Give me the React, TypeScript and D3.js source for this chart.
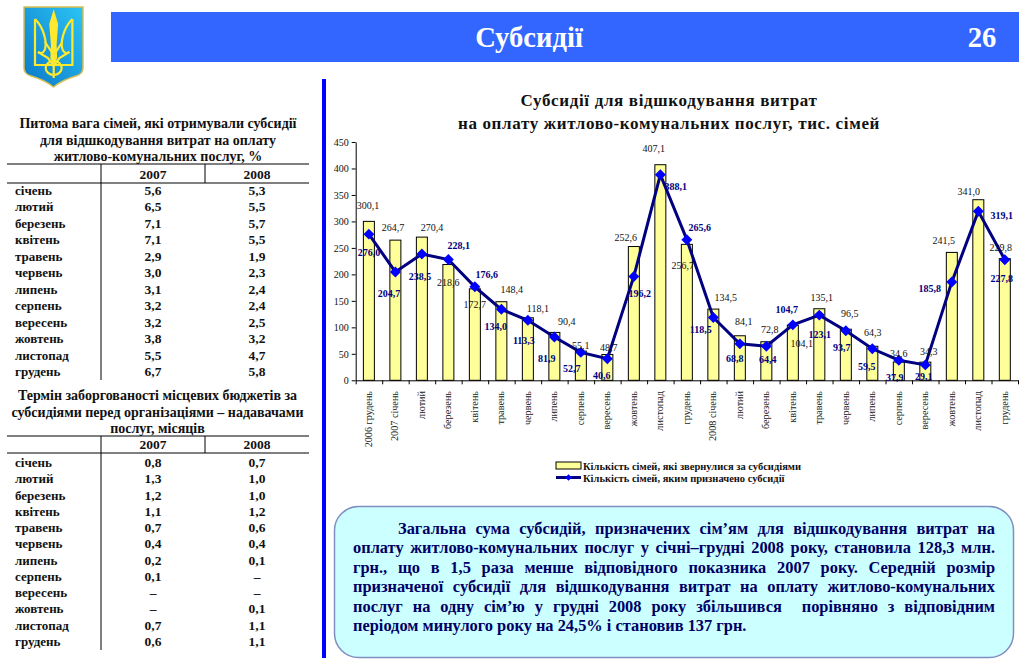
import { useRef, useEffect } from "react";
import * as d3 from "d3";

const serif = "'Liberation Serif', serif";

// chart data
const categories = [
  "2006 грудень", "2007 січень", "лютий", "березень", "квітень", "травень", "червень", "липень", "серпень", "вересень", "жовтень", "листопад", "грудень",
  "2008 січень", "лютий", "березень", "квітень", "травень", "червень", "липень", "серпень", "вересень", "жовтень", "листопад", "грудень",
];
const applied = [300.1, 264.7, 270.4, 218.6, 172.7, 148.4, 118.1, 90.4, 55.1, 48.7, 252.6, 407.1, 256.7, 134.5, 84.1, 72.8, 104.1, 135.1, 96.5, 64.3, 34.6, 34.3, 241.5, 341.0, 229.8];
const granted = [276.0, 204.7, 238.5, 228.1, 176.6, 134.0, 113.3, 81.9, 52.7, 40.6, 196.2, 388.1, 265.6, 118.5, 68.8, 64.4, 104.7, 123.1, 93.7, 59.5, 37.9, 29.1, 185.8, 319.1, 227.8];
const yTicks = [0, 50, 100, 150, 200, 250, 300, 350, 400, 450];

// hand placed data labels, offsets from the mark
const appliedOffsets = [[-1, -16], [-2.5, -13], [10, -10], [0, 17.5], [0, 16], [10.5, -12.7], [10, -9], [12.5, -11], [0, -6], [1.5, -7.5], [-8, -9.5], [-6.5, -16.7], [-4, 21.6], [12.5, -12], [4, -14], [3.5, -12.7], [9, 18], [2.5, -11.7], [4, -16], [0.5, -14], [0, -8], [3.5, -11], [-8, -12.4], [-9.5, -8.7], [-4, -11.6]];
const grantedOffsets = [[0, 18], [-6.5, 22], [-2, 22], [10.5, -14.5], [12, -11.8], [-5.5, 16.7], [-4, 19.7], [-7.5, 22], [-9, 16.6], [-5.5, 16.2], [6, 16.6], [15.5, 12], [13, -12.6], [-12.5, 11.5], [-5, 15], [1.5, 13.8], [-6, -15.8], [0.5, 19], [-4, 17.3], [-5.5, 18], [-4, 17], [-1.5, 12], [-22, 7], [23.5, 3.7], [-3, 19.3]];

// tables
const months = ["січень", "лютий", "березень", "квітень", "травень", "червень", "липень", "серпень", "вересень", "жовтень", "листопад", "грудень"];
const share2007 = ["5,6", "6,5", "7,1", "7,1", "2,9", "3,0", "3,1", "3,2", "3,2", "3,8", "5,5", "6,7"];
const share2008 = ["5,3", "5,5", "5,7", "5,5", "1,9", "2,3", "2,4", "2,4", "2,5", "3,2", "4,7", "5,8"];
const debt2007 = ["0,8", "1,3", "1,2", "1,1", "0,7", "0,4", "0,2", "0,1", "–", "–", "0,7", "0,6"];
const debt2008 = ["0,7", "1,0", "1,0", "1,2", "0,6", "0,4", "0,1", "–", "–", "0,1", "1,1", "1,1"];
const shareTitle = ["Питома вага сімей, які отримували субсидії", "для відшкодування витрат на оплату", "житлово-комунальних послуг, %"];
const debtTitle = ["Термін заборгованості місцевих бюджетів за", "субсидіями перед організаціями – надавачами", "послуг, місяців"];

const noteLines = [
  "Загальна сума субсидій, призначених сім’ям для відшкодування витрат на",
  "оплату житлово-комунальних послуг у січні–грудні 2008 року, становила 128,3 млн.",
  "грн., що в 1,5 раза менше відповідного показника 2007 року. Середній розмір",
  "призначеної субсидії для відшкодування витрат на оплату житлово-комунальних",
  "послуг на одну сім’ю у грудні 2008 року збільшився  порівняно з відповідним",
  "періодом минулого року на 24,5% і становив 137 грн.",
];

export default function App() {
  const ref = useRef<SVGSVGElement | null>(null);

  useEffect(() => {
    document.body.style.margin = "0";
    const svg = d3.select(ref.current);
    svg.selectAll("*").remove();
    svg.style("font-family", serif);

    const defs = svg.append("defs");
    const grad = defs.append("linearGradient").attr("id", "shield").attr("x1", 1).attr("y1", 0).attr("x2", 0).attr("y2", 1);
    grad.append("stop").attr("offset", "0%").attr("stop-color", "#2cc4f4");
    grad.append("stop").attr("offset", "100%").attr("stop-color", "#0a78c8");

    // logo
    const logo = svg.append("g");
    logo.append("path")
      .attr("d", "M24 7 H83 V68 Q83 74 76 76 Q62 80 53.5 87 Q45 80 31 76 Q24 74 24 68 Z")
      .attr("fill", "url(#shield)").attr("stroke", "#d8c050").attr("stroke-width", 1.5);
    const trident = [
      "M53.7 13 L57 24 L55.5 45 L56 58 L53.7 62 L51.4 58 L52 45 L50.4 24 Z",
      "M35 19 V65 H72.4 V19",
      "M35 19 C44 28 47 42 45 49 Q43 55 38 52",
      "M72.4 19 C63.4 28 60.4 42 62.4 49 Q64.4 55 69.4 52",
      "M38 52 L48 58 L53.7 66 L59.4 58 L69.4 52",
      "M45 42 L53.7 55 L62.4 42",
      "M45.7 68 a8 7 0 1 0 16 0 a8 7 0 1 0 -16 0",
      "M53.7 62 V78",
    ];
    logo.selectAll("path.t").data(trident).enter().append("path")
      .attr("class", "t").attr("d", (d) => d)
      .attr("fill", (_, i) => (i === 0 ? "#ffe92e" : "none"))
      .attr("stroke", "#ffe92e").attr("stroke-width", 2.2);

    // header
    svg.append("rect").attr("x", 111).attr("y", 12).attr("width", 908).attr("height", 50).attr("fill", "#3366ff");
    svg.append("text").attr("x", 529).attr("y", 47).attr("text-anchor", "middle").attr("fill", "#fff")
      .attr("font-weight", "bold").attr("font-size", 28.6).text("Субсидії");
    svg.append("text").attr("x", 982).attr("y", 47).attr("text-anchor", "middle").attr("fill", "#fff")
      .attr("font-weight", "bold").attr("font-size", 28.6).text("26");
    svg.append("rect").attr("x", 322).attr("y", 79).attr("width", 4).attr("height", 579).attr("fill", "#0000ff");

    // left tables
    const drawTable = (title: string[], titleX: number, titleY: number, top: number, head: number, rowStart: number, rowStep: number, bottom: number, c07: string[], c08: string[]) => {
      const g = svg.append("g").attr("font-weight", "bold").attr("fill", "#111");
      title.forEach((t, i) => {
        g.append("text").attr("x", titleX).attr("y", titleY + i * 16.5).attr("text-anchor", "middle").attr("font-size", 14).text(t);
      });
      [top, head].forEach((y) => {
        g.append("line").attr("x1", 7).attr("x2", 309).attr("y1", y).attr("y2", y).attr("stroke", "#000");
      });
      g.append("line").attr("x1", 101).attr("x2", 101).attr("y1", top).attr("y2", bottom).attr("stroke", "#000");
      g.append("line").attr("x1", 205).attr("x2", 205).attr("y1", top).attr("y2", head).attr("stroke", "#000");
      g.append("text").attr("x", 153).attr("y", head - 4).attr("text-anchor", "middle").attr("font-size", 13.5).text("2007");
      g.append("text").attr("x", 257).attr("y", head - 4).attr("text-anchor", "middle").attr("font-size", 13.5).text("2008");
      months.forEach((m, i) => {
        const y = rowStart + i * rowStep + 4;
        g.append("text").attr("x", 15).attr("y", y).attr("font-size", 13).text(m);
        g.append("text").attr("x", 153).attr("y", y).attr("text-anchor", "middle").attr("font-size", 13.5).text(c07[i]);
        g.append("text").attr("x", 257).attr("y", y).attr("text-anchor", "middle").attr("font-size", 13.5).text(c08[i]);
      });
    };
    drawTable(shareTitle, 158, 128, 164, 183, 191, 16.45, 380, share2007, share2008);
    drawTable(debtTitle, 157.5, 400, 436, 453, 463, 16.27, 650, debt2007, debt2008);

    // chart title
    ["Субсидії для відшкодування витрат", "на оплату житлово-комунальних послуг, тис. сімей"].forEach((t, i) => {
      svg.append("text").attr("x", 669).attr("y", 106 + i * 23).attr("text-anchor", "middle")
        .attr("font-weight", "bold").attr("font-size", 17).attr("letter-spacing", 0.65).attr("fill", "#111").text(t);
    });

    // chart
    const x = d3.scaleBand<number>().domain(d3.range(categories.length)).range([355.7, 1018]).paddingInner(0.585).paddingOuter(0.29);
    const edges = d3.scaleLinear().domain([0, categories.length]).range([355.7, 1018]);
    const y = d3.scaleLinear().domain([0, 450]).range([380.3, 142]);
    const center = (i: number) => (x(i) as number) + x.bandwidth() / 2;

    svg.append("g").selectAll("rect").data(applied).enter().append("rect")
      .attr("x", (_, i) => x(i) as number).attr("y", (d) => y(d))
      .attr("width", x.bandwidth()).attr("height", (d) => y(0) - y(d))
      .attr("fill", "#ffff99").attr("stroke", "#000");

    const yAxis = svg.append("g").attr("transform", "translate(355.7,0)")
      .call(d3.axisLeft(y).tickValues(yTicks).tickSize(4).tickSizeOuter(0));
    const xAxis = svg.append("g").attr("transform", "translate(0,380.3)")
      .call(d3.axisBottom(edges).ticks(categories.length).tickSize(4).tickSizeOuter(0).tickFormat(() => ""));
    [yAxis, xAxis].forEach((a) => {
      a.selectAll("path,line").attr("stroke", "#000");
      a.selectAll("text").attr("font-family", serif).attr("font-size", 10).attr("fill", "#111");
    });

    svg.append("g").selectAll("text").data(categories).enter().append("text")
      .attr("transform", (_, i) => `translate(${center(i) + 3},391) rotate(-90)`)
      .attr("text-anchor", "end").attr("font-size", 10.2).attr("fill", "#222").text((d) => d);

    const line = d3.line<number>().x((_, i) => center(i)).y((d) => y(d));
    svg.append("path").attr("d", line(granted)).attr("fill", "none").attr("stroke", "#000080").attr("stroke-width", 3);
    const diamond = d3.symbol().type(d3.symbolSquare).size(60);
    svg.append("g").selectAll("path").data(granted).enter().append("path")
      .attr("d", diamond()).attr("fill", "#0000ff")
      .attr("transform", (d, i) => `translate(${center(i)},${y(d)}) rotate(45)`);

    const fmt = (v: number) => v.toFixed(1).replace(".", ",");
    svg.append("g").selectAll("text").data(applied).enter().append("text")
      .attr("x", (_, i) => center(i) + appliedOffsets[i][0])
      .attr("y", (d, i) => y(d) + appliedOffsets[i][1] + 3.5)
      .attr("text-anchor", "middle").attr("font-size", 10).attr("fill", "#111").text(fmt);
    svg.append("g").selectAll("text").data(granted).enter().append("text")
      .attr("x", (_, i) => center(i) + grantedOffsets[i][0])
      .attr("y", (d, i) => y(d) + grantedOffsets[i][1] + 3.5)
      .attr("text-anchor", "middle").attr("font-size", 10).attr("font-weight", "bold").attr("fill", "#000080").text(fmt);

    // legend
    svg.append("rect").attr("x", 556).attr("y", 462).attr("width", 25).attr("height", 7).attr("fill", "#ffff99").attr("stroke", "#000");
    svg.append("line").attr("x1", 556).attr("x2", 581).attr("y1", 477.5).attr("y2", 477.5).attr("stroke", "#000080").attr("stroke-width", 3);
    svg.append("path").attr("d", d3.symbol().type(d3.symbolSquare).size(22)()).attr("fill", "#0000ff").attr("transform", "translate(568.5,477.5) rotate(45)");
    svg.append("text").attr("x", 583).attr("y", 469.5).attr("font-size", 10.5).attr("font-weight", "bold").attr("fill", "#111").text("Кількість сімей, які звернулися за субсидіями");
    svg.append("text").attr("x", 583).attr("y", 481.5).attr("font-size", 10.5).attr("font-weight", "bold").attr("fill", "#111").text("Кількість сімей, яким призначено субсидії");

    // note box
    svg.append("rect").attr("x", 334.5).attr("y", 506.5).attr("width", 679).attr("height", 151).attr("rx", 24)
      .attr("fill", "#ccffff").attr("stroke", "#7f8fc0").attr("stroke-width", 1.5);
    noteLines.forEach((t, i) => {
      const left = i === 0 ? 398 : 353;
      const el = svg.append("text").attr("x", left).attr("y", 534 + i * 19.4)
        .attr("font-size", 16.4).attr("font-weight", "bold").attr("fill", "#000066")
        .style("white-space", "pre").text(t);
      if (i < noteLines.length - 1) {
        // justify by stretching the gaps between words
        const node = el.node() as SVGTextElement;
        const gaps = t.split(" ").length - 1;
        el.attr("word-spacing", (995 - left - node.getComputedTextLength()) / gaps);
      }
    });
  }, []);

  return <svg ref={ref} width={1023} height={667} style={{ display: "block", background: "#fff" }}></svg>;
}
